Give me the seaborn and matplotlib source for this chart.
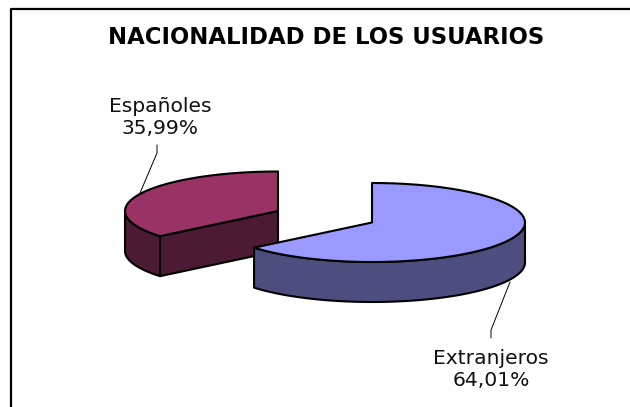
import numpy as np
import matplotlib
matplotlib.use("Agg")
import matplotlib.pyplot as plt
import seaborn as sns

categories = ["Extranjeros", "Españoles"]
values = [64.01, 35.99]
value_labels = ["64,01%", "35,99%"]
top_colors = ["#9999FF", "#993366"]
side_colors = ["#4D4D80", "#4D1A33"]
centers = [(372, 222.5), (278, 211)]
title = "NACIONALIDAD DE LOS USUARIOS"

RX, RY, DEPTH = 153, 39.5, 40

sns.set_theme(style="white")
plt.rcParams["font.family"] = ["DejaVu Sans"]

fig = plt.figure(figsize=(6.3, 4.07), dpi=100)
ax = fig.add_axes([0, 0, 1, 1])
ax.set_xlim(0, 630)
ax.set_ylim(407, 0)
ax.axis("off")

ax.plot([11, 11, 640], [412, 9, 9], color="black", lw=1.6, zorder=1, clip_on=True)


def arc(c, t0, t1):
    t = np.radians(np.linspace(t0, t1, 120))
    return c[0] + RX * np.sin(t), c[1] - RY * np.cos(t)


def face(xs, ys, color, z):
    ax.fill(xs, ys, facecolor=color, edgecolor="black", lw=1.5, joinstyle="round", zorder=z)


angles = np.cumsum([0] + [v * 3.6 for v in values])

# Spanish slice
c = centers[1]
t0, t1 = angles[1], angles[2]
ax_, ay_ = arc(c, t0, 270)
face(np.r_[ax_, ax_[::-1]], np.r_[ay_, ay_[::-1] + DEPTH], side_colors[1], 3)
x0, y0 = arc(c, t0, t0)
face([x0[0], c[0], c[0], x0[0]], [y0[0], c[1], c[1] + DEPTH, y0[0] + DEPTH], side_colors[1], 3)
ax_, ay_ = arc(c, t0, t1)
face(np.r_[c[0], ax_], np.r_[c[1], ay_], top_colors[1], 4)

# Foreign slice
c = centers[0]
t0, t1 = angles[0], angles[1]
ax_, ay_ = arc(c, 90, t1)
face(np.r_[ax_, ax_[::-1]], np.r_[ay_, ay_[::-1] + DEPTH], side_colors[0], 5)
ax_, ay_ = arc(c, t0, t1)
face(np.r_[c[0], ax_], np.r_[c[1], ay_], top_colors[0], 6)

# Labels and leader lines
ax.text(160, 118, f"{categories[1]}\n{value_labels[1]}", ha="center", va="center",
        fontsize=14.6, color="#111111", linespacing=1.2)
ax.plot([157, 157, 140], [145, 153, 193], color="black", lw=0.7, zorder=7)
ax.text(491, 369, f"{categories[0]}\n{value_labels[0]}", ha="center", va="center",
        fontsize=14.6, color="#111111", linespacing=1.2)
ax.plot([491, 491, 510], [338, 330, 282], color="black", lw=0.7, zorder=7)

ax.text(326, 37, title, ha="center", va="center", fontsize=16.4, fontweight="bold", color="black")

fig.savefig("out.png", dpi=100, facecolor="white")
